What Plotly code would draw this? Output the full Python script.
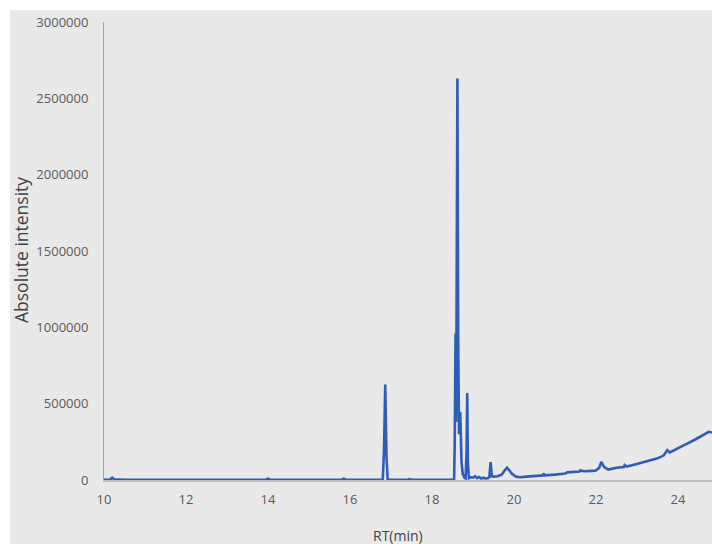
import plotly.graph_objects as go

# Retention time (min) and absolute intensity
rt = [10.0, 10.15, 10.2, 10.25, 10.5, 11.0, 11.85, 11.9, 11.95, 12.5, 13.0, 13.5,
      13.95, 14.0, 14.05, 14.5, 15.0, 15.5, 15.8, 15.85, 15.9, 16.5, 16.8, 16.83,
      16.86, 16.89, 16.92, 17.4, 17.45, 17.5, 18.0, 18.54, 18.555, 18.575, 18.59,
      18.605, 18.62, 18.64, 18.66, 18.69, 18.72, 18.75, 18.79, 18.82, 18.845, 18.86,
      18.875, 18.9, 18.95, 19.0, 19.05, 19.1, 19.15, 19.2, 19.25, 19.3, 19.36, 19.4,
      19.43, 19.46, 19.5, 19.6, 19.7, 19.78, 19.83, 19.88, 19.95, 20.05, 20.15, 20.3,
      20.5, 20.7, 20.72, 20.75, 21.0, 21.25, 21.3, 21.5, 21.6, 21.62, 21.7, 21.9, 22.0, 22.08,
      22.13, 22.2, 22.3, 22.5, 22.68, 22.7, 22.75, 23.0, 23.2, 23.3, 23.5, 23.65,
      23.74, 23.8, 24.0, 24.2, 24.4, 24.6, 24.7, 24.75, 24.85]
intensity = [2000, 3000, 15000, 4000, 2000, 2000, 2000, 6000, 2000, 2000, 2000, 2000,
             2000, 9000, 2000, 2000, 2000, 2000, 2000, 8000, 2000, 2000, 3000, 200000,
             625000, 150000, 3000, 2000, 6000, 2000, 2000, 3000, 250000, 960000, 380000,
             1200000, 2630000, 900000, 300000, 445000, 120000, 40000, 15000, 10000, 200000, 570000,
             120000, 12000, 18000, 15000, 25000, 12000, 20000, 10000, 15000, 10000, 12000, 20000,
             118000, 25000, 22000, 25000, 35000, 65000, 80000, 65000, 40000, 22000, 18000, 22000,
             26000, 30000, 42000, 30000, 35000, 42000, 50000, 52000, 55000, 63000, 57000, 60000, 62000, 80000,
             118000, 85000, 68000, 80000, 85000, 98000, 88000, 105000, 118000, 128000, 142000, 160000,
             195000, 180000, 210000, 235000, 262000, 290000, 305000, 316000, 310000]

x_ticks = [10, 12, 14, 16, 18, 20, 22, 24]
y_ticks = [0, 500000, 1000000, 1500000, 2000000, 2500000, 3000000]

W, H = 712, 544
L, R, T, B = 104, 0, 22, 64
pw, ph = W - L - R, H - T - B

def px_x(p):
    return (p - L) / pw

def px_y(p):
    return (H - B - p) / ph

fig = go.Figure()
fig.add_trace(go.Scatter(x=rt, y=intensity, mode="lines",
                         line=dict(color="#2f5cb9", width=2.6),
                         hoverinfo="skip", showlegend=False))

tick_font = dict(family="Open Sans, Noto Sans, sans-serif", size=13, color="#595959")

fig.update_layout(
    width=W, height=H,
    margin=dict(l=L, r=R, t=T, b=B),
    paper_bgcolor="white",
    plot_bgcolor="rgba(0,0,0,0)",
    showlegend=False,
    hovermode=False,
    xaxis=dict(range=[10, 24.83], tickvals=x_ticks, ticktext=[str(v) for v in x_ticks],
               showgrid=False, zeroline=False, showline=True, linecolor="#bdbdbd",
               linewidth=2, ticks="", tickfont=tick_font, ticklabelstandoff=6),
    yaxis=dict(range=[0, 3000000], tickvals=y_ticks, ticktext=[str(v) for v in y_ticks],
               showgrid=False, zeroline=False, showline=True, linecolor="#a6a6a6",
               linewidth=1, ticks="", tickfont=tick_font, ticklabelstandoff=12),
    shapes=[dict(type="rect", xref="paper", yref="paper",
                 x0=px_x(10), x1=px_x(W + 5), y0=px_y(H + 5), y1=px_y(10),
                 fillcolor="#e9e9e9", line=dict(width=0), layer="below")],
    annotations=[
        dict(text="Absolute intensity", xref="paper", yref="paper",
             x=px_x(21), y=px_y(250), textangle=-90, showarrow=False,
             xanchor="center", yanchor="middle",
             font=dict(family="Open Sans, Noto Sans, sans-serif", size=17.5, color="#404040")),
        dict(text="RT(min)", xref="paper", yref="paper",
             x=px_x(398), y=px_y(535), showarrow=False,
             xanchor="center", yanchor="middle",
             font=dict(family="Open Sans, Noto Sans, sans-serif", size=14, color="#404040")),
    ],
)

fig.write_html("out.html",
               config={"displayModeBar": False, "staticPlot": True},
               post_script="document.body.style.margin='0';document.body.style.overflow='hidden';")
